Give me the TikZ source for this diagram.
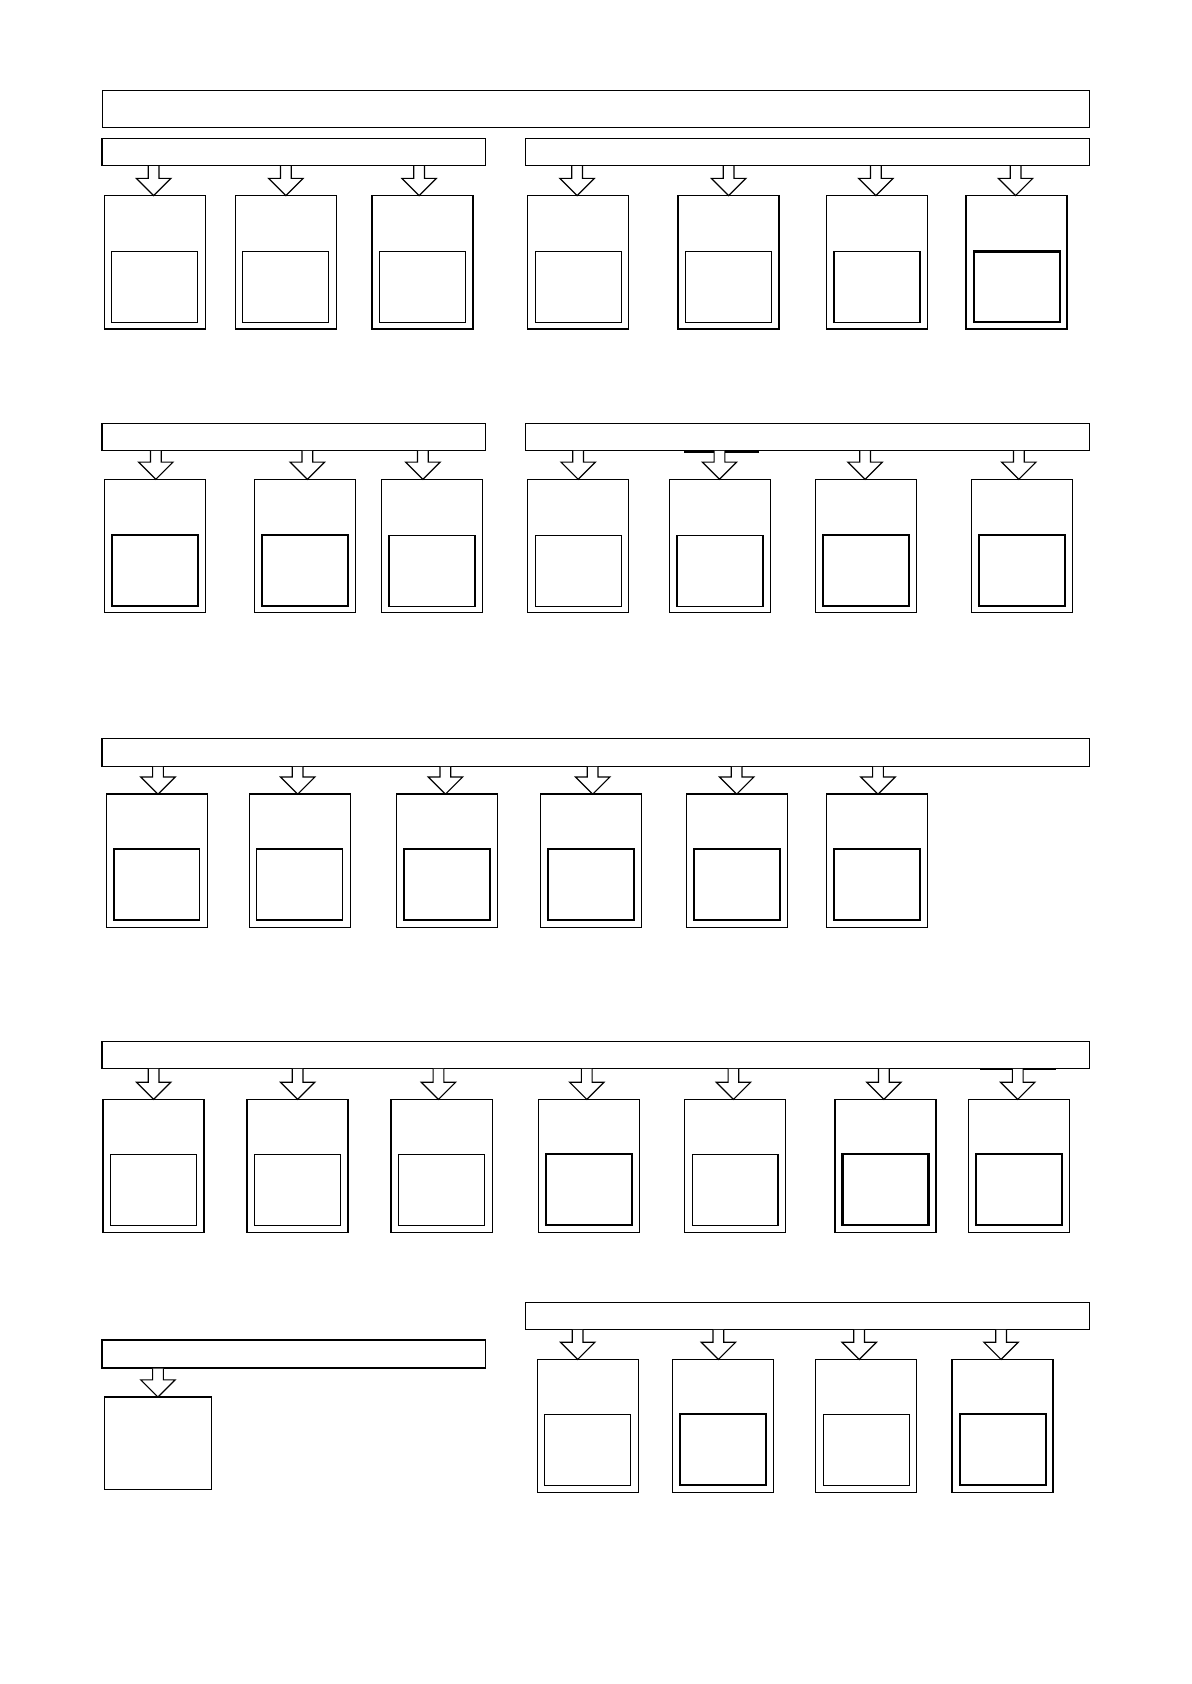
\documentclass[tikz,border=0pt]{standalone}
\usepackage{tikz}
\usetikzlibrary{positioning,calc}

% hollow block arrow from a bar down to a cell, [x shift of the tip]
\newcommand{\fatarrow}[3][0]{%
	\coordinate (#3-t) at ($(#3.north)+(#1,0)$);
	\coordinate (#3-s) at (#2.south -| #3-t);
	\draw[arr] ($(#3-s)+(-5,0.5)$) -- ($(#3-t)+(-5,-16)$) -- ($(#3-t)+(-16,-16)$) -- (#3-t)
		-- ($(#3-t)+(16,-16)$) -- ($(#3-t)+(5,-16)$) -- ($(#3-s)+(5,0.5)$);}

\begin{document}
\begin{tikzpicture}[x=1pt,y=-1pt]
		\tikzset{bar/.style={draw, line width=1.3pt, anchor=north west, inner sep=0pt, outer sep=0pt, minimum height=25},
			cell/.style={draw, line width=1.3pt, anchor=north west, inner sep=0pt, outer sep=0pt, minimum width=94, minimum height=124},
			win/.style={draw, inner sep=0pt, outer sep=0pt, minimum width=80, minimum height=66},
			arr/.style={draw, fill=white, line width=1.1pt},
			uline/.style={line width=2.2pt}}
		\useasboundingbox (0,0) rectangle (1109,1567);
		\node[bar, line width=1pt, minimum width=919, minimum height=35] (top) at (95,84) {};
		% first block
		\node[bar, minimum width=357] (barA) at (95,129) {};
		\node[bar, minimum width=525] (barB) at (489,129) {};
		\foreach \x/\o/\w [count=\i] in {97/-1/1.1,219/0/1.1,346/-3/1.1}{
			\node[cell] (a\i) at (\x,182) {};
			\node[win, line width=\w pt, above=6pt of a\i.south] (wa\i) {};
			\fatarrow[\o]{barA}{a\i}}
		\foreach \x/\o/\w [count=\i] in {491/-1/1.1,631/0/1.1,769/-1/1.1,899/-1/2}{
			\node[cell] (b\i) at (\x,182) {};
			\node[win, line width=\w pt, above=6pt of b\i.south] (wb\i) {};
			\fatarrow[\o]{barB}{b\i}}
		% second block
		\node[bar, minimum width=357] (barC) at (95,394) {};
		\node[bar, minimum width=525] (barD) at (489,394) {};
		\foreach \x/\o/\w [count=\i] in {97/1/2,237/2/2,355/-8.5/1.1}{
			\node[cell] (c\i) at (\x,446) {};
			\node[win, line width=\w pt, above=6pt of c\i.south] (wc\i) {};
			\fatarrow[\o]{barC}{c\i}}
		\foreach \x/\o/\w [count=\i] in {491/0/1.1,623/-0.5/1.1,759/-1/2,904/-3/2}{
			\node[cell] (d\i) at (\x,446) {};
			\node[win, line width=\w pt, above=6pt of d\i.south] (wd\i) {};
			\fatarrow[\o]{barD}{d\i}}
		\draw[uline] ($(d2-s)+(-33,1)$) -- ($(d2-s)+(-5,1)$) ($(d2-s)+(5,1)$) -- ($(d2-s)+(37,1)$);
		% third block
		\node[bar, minimum width=919, minimum height=26] (barE) at (95,687) {};
		\foreach \x/\o/\w [count=\i] in {99/1/1.1,232/-2/1.1,369/-1.5/1.1,503/1.5/1.1,639/-0.5/2,769/1/1.1}{
			\node[cell] (e\i) at (\x,739) {};
			\node[win, line width=\w pt, above=7pt of e\i.south] (we\i) {};
			\fatarrow[\o]{barE}{e\i}}
		% fourth block
		\node[bar, minimum width=919] (barF) at (95,969) {};
		\foreach \x/\o/\w [count=\i] in {96/0/1.1,230/0/1.1,364/-3/1.1,501/-2/2,637/-1.5/1.1,777/-1.5/2,901/-1/1.6}{
			\node[cell] (f\i) at (\x,1023) {};
			\node[win, line width=\w pt, above=7pt of f\i.south] (wf\i) {};
			\fatarrow[\o]{barF}{f\i}}
		\draw[uline] ($(f7-s)+(-35,1)$) -- ($(f7-s)+(-5,1)$) ($(f7-s)+(5,1)$) -- ($(f7-s)+(36,1)$);
		% last block
		\node[bar, minimum width=357, minimum height=26] (barG) at (95,1247) {};
		\node[cell, minimum width=100, minimum height=86] (g1) at (97,1300) {};
		\fatarrow{barG}{g1}
		\node[bar, minimum width=525] (barH) at (489,1212) {};
		\foreach \x/\o/\w [count=\i] in {500/-9.5/1.1,626/-4.5/2,759/-6.5/1.1,886/-1.5/2}{
			\node[cell] (h\i) at (\x,1265) {};
			\node[win, line width=\w pt, above=7pt of h\i.south] (wh\i) {};
			\fatarrow[\o]{barH}{h\i}}
	\end{tikzpicture}
\end{document}
